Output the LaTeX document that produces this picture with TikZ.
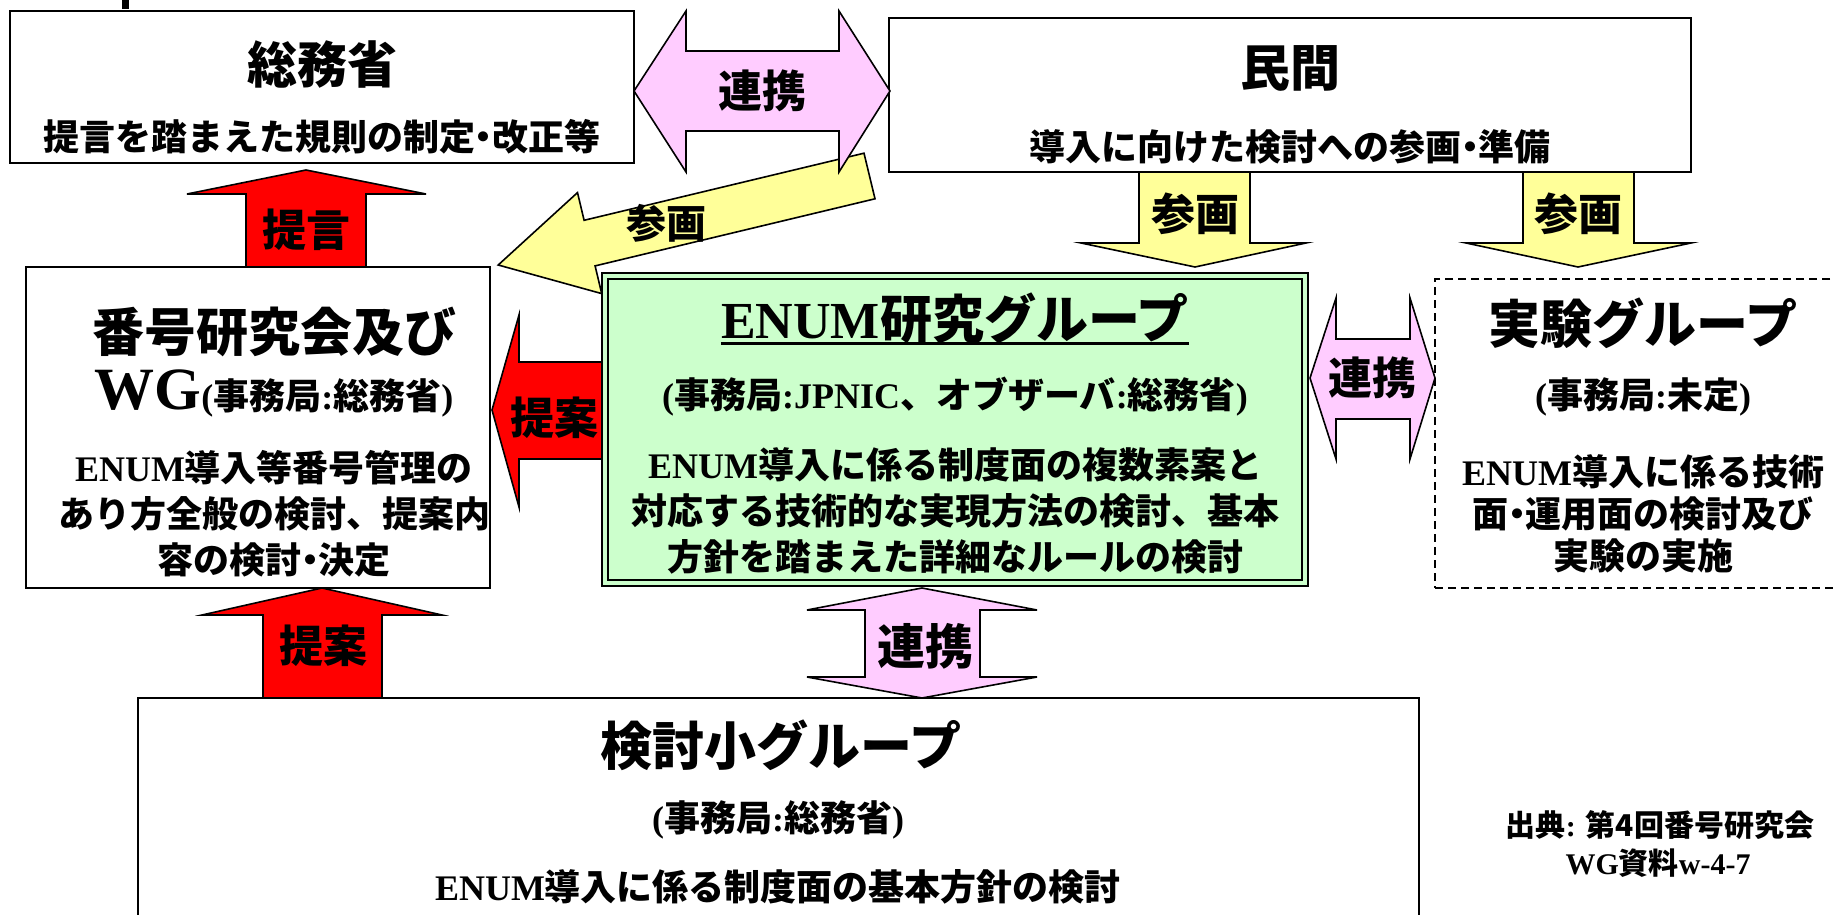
\documentclass[tikz,border=0pt]{standalone}
\usepackage{fontspec}
\setmainfont{Liberation Serif}
\newfontfamily\jp{Noto Sans CJK JP}
\newcommand\R[1]{{\rmfamily #1}}
\newcommand\fsz[2]{\fontsize{#1}{#2}\selectfont}
\newcommand\nd{\hspace{-0.27em}・\hspace{-0.27em}}
\definecolor{pinkc}{HTML}{FFCCFF}
\definecolor{yelc}{HTML}{FFFF99}
\definecolor{greenc}{HTML}{CCFFCC}
\definecolor{redc}{HTML}{FF0000}
\begin{document}
\begin{tikzpicture}[x=1pt,y=-1pt,
  box/.style={draw=black, line width=2pt, fill=white, inner sep=0pt, outer sep=0pt, anchor=north west},
  dbox/.style={draw=black, line width=1.8pt, dash pattern=on 8pt off 5pt, fill=white, inner sep=0pt, outer sep=0pt, anchor=north west},
  lbl/.style={inner sep=0pt, align=center},
  tt/.style={font=\bfseries\jp\fsz{#1}{#1}},
  tb/.style={font=\bfseries\jp\fsz{36}{#1}},
  blk/.style={draw=black, line width=1.6pt, line join=miter},
  parrow/.style={blk, fill=pinkc},
  yarrow/.style={blk, fill=yelc},
  rarrow/.style={blk, fill=redc},
]
\useasboundingbox (0,0) rectangle (1834,915);
\fill[white] (0,0) rectangle (1834,915);
\fill[black] (122,0) rectangle (129,9);

% arrows that pass behind boxes
\draw[yarrow] (864.0,153.2) -- (875.0,198.8) -- (595.1,265.9) -- (601.7,293.6) -- (498.2,265.0) -- (577.5,192.6) -- (584.1,220.3) -- cycle;
\draw[rarrow] (606,362) -- (519,362) -- (519,315) -- (492,410) -- (519,507) -- (519,459) -- (606,459) -- cycle;

% boxes
\node[box, minimum width=624, minimum height=152] (somu) at (10,11) {};
\node[box, minimum width=802, minimum height=154] (minkan) at (889,18) {};
\node[box, minimum width=464, minimum height=321] (bango) at (26,267) {};
\node[box, fill=greenc, line width=2.6pt, minimum width=706, minimum height=313] (enum) at (602,273) {};
\draw[line width=2.6pt] ([xshift=6pt,yshift=-6pt]enum.north west) rectangle ([xshift=-6pt,yshift=6pt]enum.south east);
\node[dbox, minimum width=420, minimum height=309] (jikken) at (1435,279) {};
\node[box, minimum width=1281, minimum height=240] (kento) at (138,698) {};

% other block arrows
\draw[parrow] (634,91) -- (686,11) -- (686,51) -- (839,51) -- (839,11) -- (890,91) -- (839,172) -- (839,131) -- (686,131) -- (686,172) -- cycle;
\draw[rarrow] (246,267) -- (246,194) -- (187,194) -- (306,170) -- (426,194) -- (366,194) -- (366,267) -- cycle;
\draw[yarrow] (1139,172) -- (1250,172) -- (1250,243) -- (1306,243) -- (1195,267) -- (1081,243) -- (1139,243) -- cycle;
\draw[yarrow] (1523,172) -- (1634,172) -- (1634,243) -- (1691,243) -- (1578,267) -- (1466,243) -- (1523,243) -- cycle;
\draw[parrow] (1310,378) -- (1336,298) -- (1336,339) -- (1410,339) -- (1410,298) -- (1435,378) -- (1410,459) -- (1410,419) -- (1336,419) -- (1336,459) -- cycle;
\draw[rarrow] (263,698) -- (263,615) -- (202,615) -- (322,588) -- (442,615) -- (382,615) -- (382,698) -- cycle;
\draw[parrow] (922,588) -- (1037,610) -- (980,610) -- (980,677) -- (1037,677) -- (922,698) -- (807,677) -- (865,677) -- (865,610) -- (807,610) -- cycle;

% arrow labels
\node[lbl, tt=44] (l1) at (762,91) {連携};
\node[lbl, tt=40] (l2) at (666,223) {参画};
\node[lbl, tt=44] (l3) at (1195,214) {参画};
\node[lbl, tt=44] (l4) at (1578,214) {参画};
\node[lbl, tt=44] (l5) at (306,230) {提言};
\node[lbl, tt=44] (l6) at (554,418) {提案};
\node[lbl, tt=44] (l7) at (1372,378) {連携};
\node[lbl, tt=44] (l8) at (323,646) {提案};
\node[lbl, tt=48] (l9) at (925,646) {連携};

% 総務省
\node[lbl, tt=50] (somuT) at (322,65) {総務省};
\node[lbl, tt=36] (somuS) at (322,137) {提言を踏まえた規則の制定\nd 改正等};

% 民間
\node[lbl, tt=50] (minkanT) at (1290,68) {民間};
\node[lbl, tt=36] (minkanS) at (1290,147) {導入に向けた検討への参画\nd 準備};

% 番号研究会
\node[lbl, tt=52] (bangoT) at (274,332) {番号研究会及び};
\node[lbl, tt=36] (bangoW) at (274,393) {\R{\fsz{60}{60}WG}\R{(}事務局\R{:}総務省\R{)}};
\node[lbl, tb=46] (bangoB) at (274,514) {\R{ENUM}導入等番号管理の\\あり方全般の検討、提案内\\容の検討\nd 決定};

% ENUM研究グループ
\node[lbl, tt=52] (enumT) at (955,318) {\R{ENUM}研究グループ};
\draw[line width=3pt] (enumT.west |- 0,343) -- (enumT.east |- 0,343);
\node[lbl, tt=36] (enumS) at (955,397) {\R{(}事務局\R{:JPNIC}、オブザーバ\R{:}総務省\R{)}};
\node[lbl, tb=46] (enumB) at (955,511) {\R{ENUM}導入に係る制度面の複数素案と\\対応する技術的な実現方法の検討、基本\\方針を踏まえた詳細なルールの検討};

% 実験グループ
\node[lbl, tt=52] (jikkenT) at (1643,323) {実験グループ};
\node[lbl, tt=36] (jikkenS) at (1643,397) {\R{(}事務局\R{:}未定\R{)}};
\node[lbl, tb=42] (jikkenB) at (1643,514) {\R{ENUM}導入に係る技術\\面\nd 運用面の検討及び\\実験の実施};

% 検討小グループ
\node[lbl, tt=52] (kentoT) at (781,745) {検討小グループ};
\node[lbl, tt=36] (kentoS) at (778,820) {\R{(}事務局\R{:}総務省\R{)}};
\node[lbl, tt=36] (kentoB) at (778,887) {\R{ENUM}導入に係る制度面の基本方針の検討};

% source
\node[lbl, tt=30] (src1) at (1660,825) {出典\R{: }第4回番号研究会};
\node[lbl, tt=30] (src2) at (1658,863) {\R{WG}資料\R{w-4-7}};
\end{tikzpicture}
\end{document}
